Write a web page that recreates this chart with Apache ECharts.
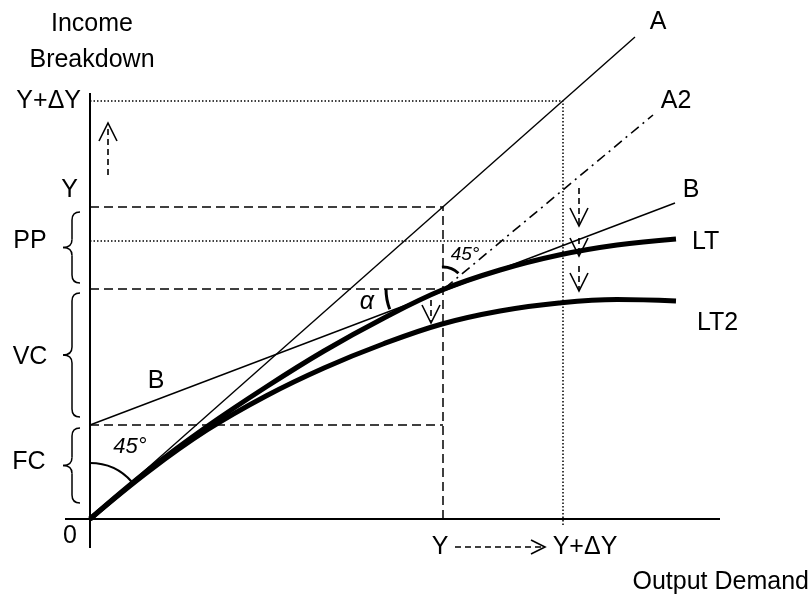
<!DOCTYPE html>
<html>
<head>
<meta charset="utf-8">
<title>Income breakdown</title>
<script src="https://cdn.jsdelivr.net/npm/echarts@6/dist/echarts.min.js"></script>
<style>
  html, body { margin: 0; padding: 0; background: #fff; }
  #chart { width: 810px; height: 596px; }
</style>
</head>
<body>
<div id="chart"></div>
<script>
// output demand (x) and income (y)
var outputPts = [0, 59, 117, 176, 234, 293, 352, 410, 469, 527, 586];
var incomeLT  = [0, 49.5, 92.5, 132, 168, 200.5, 229, 249, 264, 274, 280];
var incomeLT2 = [0, 48, 89, 123, 151, 175, 195, 208, 216, 219.5, 218];

var lineA  = [[0, 0], [545, 482]];
var lineA2 = [[355, 231], [563, 404]];
var lineB  = [[0, 94], [585, 316]];

var outY = 353, outY2 = 473;        // Y and Y+dY on the output axis
var incY = 312, incY2 = 418;        // Y and Y+dY on the income axis
var fixedCost = 94, ltAtY = 230, ltAtY2 = 278;

// income ranges marked by braces: PP, VC, FC
var braces = [[236, 307], [102, 226], [16, 91]];

// dashed shift arrows: x1, y1, x2, y2
var shiftArrows = [
  [18, 344, 18, 396],
  [489, 331, 489, 293],
  [489, 281, 489, 263],
  [489, 253, 489, 228],
  [341, 219, 341, 196],
  [365, -28, 455, -28]
];

// angle marks: 45 at origin, 45 at A2, alpha
var angleMarks = [[0, 0], [outY, ltAtY], [outY, ltAtY]];

var FONT = '"Liberation Sans", Arial, sans-serif';

function pairs(xs, ys) {
  return xs.map(function (x, i) { return [x, ys[i]]; });
}

function seg(data, width, type, smooth) {
  return {
    type: 'line', data: data, symbol: 'none', smooth: smooth || false,
    silent: true, animation: false,
    lineStyle: { color: '#000', width: width, type: type }
  };
}

var DASH = [9, 5], DOT = [1.5, 2];

function renderArrow(params, api) {
  var p1 = api.coord([api.value(0), api.value(1)]);
  var p2 = api.coord([api.value(2), api.value(3)]);
  var ang = Math.atan2(p2[1] - p1[1], p2[0] - p1[0]);
  var small = params.dataIndex === shiftArrows.length - 1;
  var len = small ? 14 : 18, half = small ? 7 : 9;
  var bx = p2[0] - len * Math.cos(ang), by = p2[1] - len * Math.sin(ang);
  var nx = -Math.sin(ang) * half, ny = Math.cos(ang) * half;
  return {
    type: 'group',
    children: [
      { type: 'line', shape: { x1: p1[0], y1: p1[1], x2: p2[0], y2: p2[1] },
        style: { stroke: '#000', lineWidth: 1.6, lineDash: [6, 4] } },
      { type: 'polyline', shape: { points: [[bx + nx, by + ny], p2, [bx - nx, by - ny]] },
        style: { stroke: '#000', lineWidth: 1.6, fill: null } }
    ]
  };
}

function renderBrace(params, api) {
  var top = api.coord([0, api.value(1)]);
  var bot = api.coord([0, api.value(0)]);
  var ax = top[0];
  var xr = ax - 10, xs = ax - 18, xt = ax - 27, r = 8;
  var yt = top[1], yb = bot[1], ym = (yt + yb) / 2;
  var st = { stroke: '#000', lineWidth: 1.5, fill: null };
  return {
    type: 'group',
    children: [
      { type: 'bezierCurve', shape: { x1: xr, y1: yt, cpx1: xs, cpy1: yt, x2: xs, y2: yt + r }, style: st },
      { type: 'line', shape: { x1: xs, y1: yt + r, x2: xs, y2: ym - r }, style: st },
      { type: 'bezierCurve', shape: { x1: xs, y1: ym - r, cpx1: xs, cpy1: ym, x2: xt, y2: ym }, style: st },
      { type: 'bezierCurve', shape: { x1: xt, y1: ym, cpx1: xs, cpy1: ym, x2: xs, y2: ym + r }, style: st },
      { type: 'line', shape: { x1: xs, y1: ym + r, x2: xs, y2: yb - r }, style: st },
      { type: 'bezierCurve', shape: { x1: xs, y1: yb - r, cpx1: xs, cpy1: yb, x2: xr, y2: yb }, style: st }
    ]
  };
}

function dirAngle(from, to, api) {
  var a = api.coord(from), b = api.coord(to);
  return Math.atan2(b[1] - a[1], b[0] - a[0]);
}

function renderAngle(params, api) {
  var c = api.coord([api.value(0), api.value(1)]);
  var i = params.dataIndex, r, a0, a1, w;
  if (i === 0) {
    r = 56; a0 = -Math.PI / 2; a1 = dirAngle(lineA[0], lineA[1], api); w = 2.2;
  } else if (i === 1) {
    r = 22; a0 = -Math.PI / 2 - 0.05; a1 = dirAngle(lineA2[0], lineA2[1], api) - 0.1; w = 2.8;
  } else {
    r = 57; a0 = dirAngle(lineB[1], lineB[0], api); a1 = Math.PI; w = 3;
  }
  return {
    type: 'arc',
    shape: { cx: c[0], cy: c[1], r: r, startAngle: a0, endAngle: a1, clockwise: true },
    style: { stroke: '#000', lineWidth: w, fill: null }
  };
}

function txt(text, x, y, align, size, italic) {
  var font = (italic ? 'italic ' : '') + (size || 25) + 'px ' + FONT;
  return {
    type: 'text', x: x, y: y, silent: true,
    style: {
      text: text, font: font, fill: '#000',
      textAlign: align || 'center', textVerticalAlign: 'middle',
      align: align || 'center', verticalAlign: 'middle'
    }
  };
}

var myChart = echarts.init(document.getElementById('chart'), null, { renderer: 'canvas' });

var option = {
  animation: false,
  backgroundColor: '#fff',
  grid: { left: 0, right: 0, top: 0, bottom: 0 },
  xAxis: { type: 'value', min: -90, max: 720, show: false },
  yAxis: { type: 'value', min: -77, max: 519, show: false },
  series: [
    // axes of the diagram
    seg([[0, -29], [0, 426]], 2, 'solid'),
    seg([[-25, 0], [630, 0]], 2, 'solid'),
    // guide lines
    seg([[0, incY], [outY, incY]], 1.5, DASH),
    seg([[0, ltAtY], [outY, ltAtY]], 1.5, DASH),
    seg([[0, fixedCost], [outY, fixedCost]], 1.5, DASH),
    seg([[outY, 0], [outY, incY]], 1.5, DASH),
    seg([[0, incY2], [outY2, incY2]], 1.5, DOT),
    seg([[0, ltAtY2], [outY2, ltAtY2]], 1.5, DOT),
    seg([[outY2, -6], [outY2, incY2]], 1.5, DOT),
    // straight lines
    seg(lineA, 1.4, 'solid'),
    seg(lineA2, 1.6, [10, 5, 2, 5]),
    seg(lineB, 1.4, 'solid'),
    // curves
    seg(pairs(outputPts, incomeLT), 5, 'solid', 0.4),
    seg(pairs(outputPts, incomeLT2), 5, 'solid', 0.4),
    { type: 'custom', renderItem: renderArrow, data: shiftArrows, silent: true },
    { type: 'custom', renderItem: renderBrace, data: braces, silent: true },
    { type: 'custom', renderItem: renderAngle, data: angleMarks, silent: true }
  ],
  graphic: [
    txt('Income', 92, 24),
    txt('Breakdown', 92, 60),
    txt('Y+\u0394Y', 81, 101, 'right'),
    txt('Y', 78, 190, 'right'),
    txt('PP', 30, 241),
    txt('VC', 30, 357),
    txt('FC', 29, 462),
    txt('0', 70, 536),
    txt('B', 156, 381),
    txt('45\u00b0', 130, 447, 'center', 22, true),
    txt('45\u00b0', 465, 255, 'center', 19, true),
    txt('\u03b1', 367, 302, 'center', 25, true),
    txt('A', 658, 22),
    txt('A2', 676, 101),
    txt('B', 691, 190),
    txt('LT', 692, 242, 'left'),
    txt('LT2', 697, 323, 'left'),
    txt('Y', 440, 547),
    txt('Y+\u0394Y', 585, 547),
    txt('Output Demand', 809, 582, 'right')
  ]
};

myChart.setOption(option);
</script>
</body>
</html>
